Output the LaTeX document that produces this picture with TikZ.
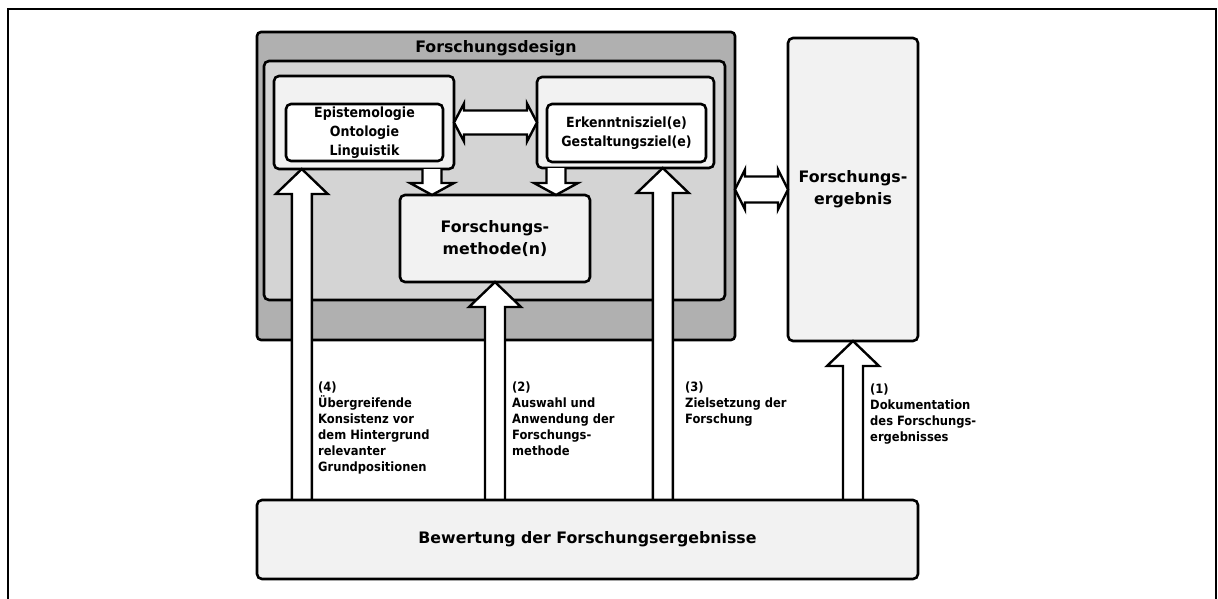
\documentclass[tikz,border=0pt]{standalone}
\usepackage{fontspec}
\setmainfont{DejaVu Sans}
\newfontfamily\condfont{DejaVu Sans Condensed}
\usetikzlibrary{calc}

\definecolor{darkgrey}{RGB}{176,176,176}
\definecolor{midgrey}{RGB}{212,212,212}
\definecolor{lightgrey}{RGB}{242,242,242}

\tikzset{
  box/.style={draw, line width=2.6pt, rounded corners=5pt, inner sep=0pt, outer sep=0pt, align=center},
  bigtext/.style={font=\bfseries\fontsize{15.8}{22}\selectfont},
  midtext/.style={font=\condfont\bfseries\fontsize{14}{19}\selectfont},
  smalltext/.style={font=\condfont\bfseries\fontsize{12.8}{16}\selectfont, align=left, anchor=north west, inner sep=0pt},
  blockarrow/.style={draw, fill=white, line width=2.4pt, line join=miter},
}

% upward block arrow: foot and tip share the same x
\newcommand\blkup[2]{%
  \filldraw[blockarrow] let \p1=(#1), \p2=(#2) in
    (\x1-10pt,\y1) -- (\x1-10pt,\y2-25pt) -- (\x1-26pt,\y2-25pt) -- (\x2,\y2)
    -- (\x1+26pt,\y2-25pt) -- (\x1+10pt,\y2-25pt) -- (\x1+10pt,\y1);}
% downward block arrow
\newcommand\blkdown[2]{%
  \filldraw[blockarrow] let \p1=(#1), \p2=(#2) in
    (\x1-9.5pt,\y1) -- (\x1-9.5pt,\y2+12pt) -- (\x1-22pt,\y2+12pt) -- (\x2,\y2)
    -- (\x1+22pt,\y2+12pt) -- (\x1+9.5pt,\y2+12pt) -- (\x1+9.5pt,\y1);}
% horizontal double block arrow: #3 shaft half width, #4 head half width, #5 head length
\newcommand\blkdouble[5]{%
  \filldraw[blockarrow] let \p1=(#1), \p2=(#2) in
    (\x1,\y1) -- (\x1+#5,\y1+#4) -- (\x1+#5,\y1+#3) -- (\x2-#5,\y1+#3) -- (\x2-#5,\y1+#4)
    -- (\x2,\y1) -- (\x2-#5,\y1-#4) -- (\x2-#5,\y1-#3) -- (\x1+#5,\y1-#3) -- (\x1+#5,\y1-#4) -- cycle;}

\begin{document}
\begin{tikzpicture}[x=1pt, y=-1pt]
\useasboundingbox (0,0) rectangle (1218,599);

% outer frame (open at the bottom)
\draw[line width=2pt] (8,600) -- (8,9) -- (1216,9) -- (1216,600);

% research design container
\node[box, fill=darkgrey, rounded corners=4pt, minimum width=478pt, minimum height=308pt] (design) at (496,186) {};
\node[box, fill=midgrey, minimum width=461pt, minimum height=239pt] (designin) at (494.5,180.5) {};
\node[bigtext] (title) at (496,48) {Forschungsdesign};

\node[box, fill=lightgrey, minimum width=180pt, minimum height=93pt] (leftbox) at (364,122.5) {};
\node[box, fill=white, midtext, minimum width=157pt, minimum height=57pt] (leftin) at (364.5,132.5)
  {Epistemologie\\Ontologie\\Linguistik};

\node[box, fill=lightgrey, minimum width=177pt, minimum height=91pt] (rightbox) at (625.5,122.5) {};
\node[box, fill=white, midtext, minimum width=159pt, minimum height=58pt] (rightin) at (626.5,133)
  {Erkenntnisziel(e)\\Gestaltungsziel(e)};

\node[box, fill=lightgrey, bigtext, minimum width=190pt, minimum height=87pt] (method) at (495,238.5)
  {Forschungs-\\methode(n)};

% research result
\node[box, fill=lightgrey, bigtext, minimum width=130pt, minimum height=303pt] (ergebnis) at (853,189.5)
  {Forschungs-\\ergebnis};

% connectors inside the design
\blkdouble{leftbox.east}{rightbox.west}{12pt}{19pt}{10pt}
\coordinate (dl) at ($(leftbox.south east)+(-22,0)$);
\coordinate (dr) at ($(rightbox.south west)+(19,0)$);
\blkdown{dl}{dl |- method.north}
\blkdown{dr}{dr |- method.north}

\blkdouble{design.east |- ergebnis.west}{ergebnis.west}{13pt}{20pt}{10pt}

% evaluation box and its arrows
\node[minimum width=661pt, minimum height=79pt, inner sep=0pt] (bewertung) at (587.5,539.5) {};
\coordinate (f4) at ($(bewertung.north west)+(45,0)$);
\coordinate (f2) at (bewertung.north -| method.south);
\coordinate (f3) at ($(bewertung.north west)+(406,0)$);
\coordinate (f1) at (bewertung.north -| ergebnis.south);
\blkup{f4}{f4 |- leftbox.south}
\blkup{f2}{method.south}
\blkup{f3}{f3 |- rightbox.south}
\blkup{f1}{ergebnis.south}
\node[box, fill=lightgrey, bigtext, minimum width=661pt, minimum height=79pt] at (bewertung.center)
  {Bewertung der Forschungsergebnisse};

% arrow labels
\node[smalltext] (l4) at (318,382) {(4)\\Übergreifende\\Konsistenz vor\\dem Hintergrund\\relevanter\\Grundpositionen};
\node[smalltext] (l2) at (512,382) {(2)\\Auswahl und\\Anwendung der\\Forschungs-\\methode};
\node[smalltext] (l3) at (685,382) {(3)\\Zielsetzung der\\Forschung};
\node[smalltext] (l1) at (870,384) {(1)\\Dokumentation\\des Forschungs-\\ergebnisses};
\end{tikzpicture}
\end{document}
